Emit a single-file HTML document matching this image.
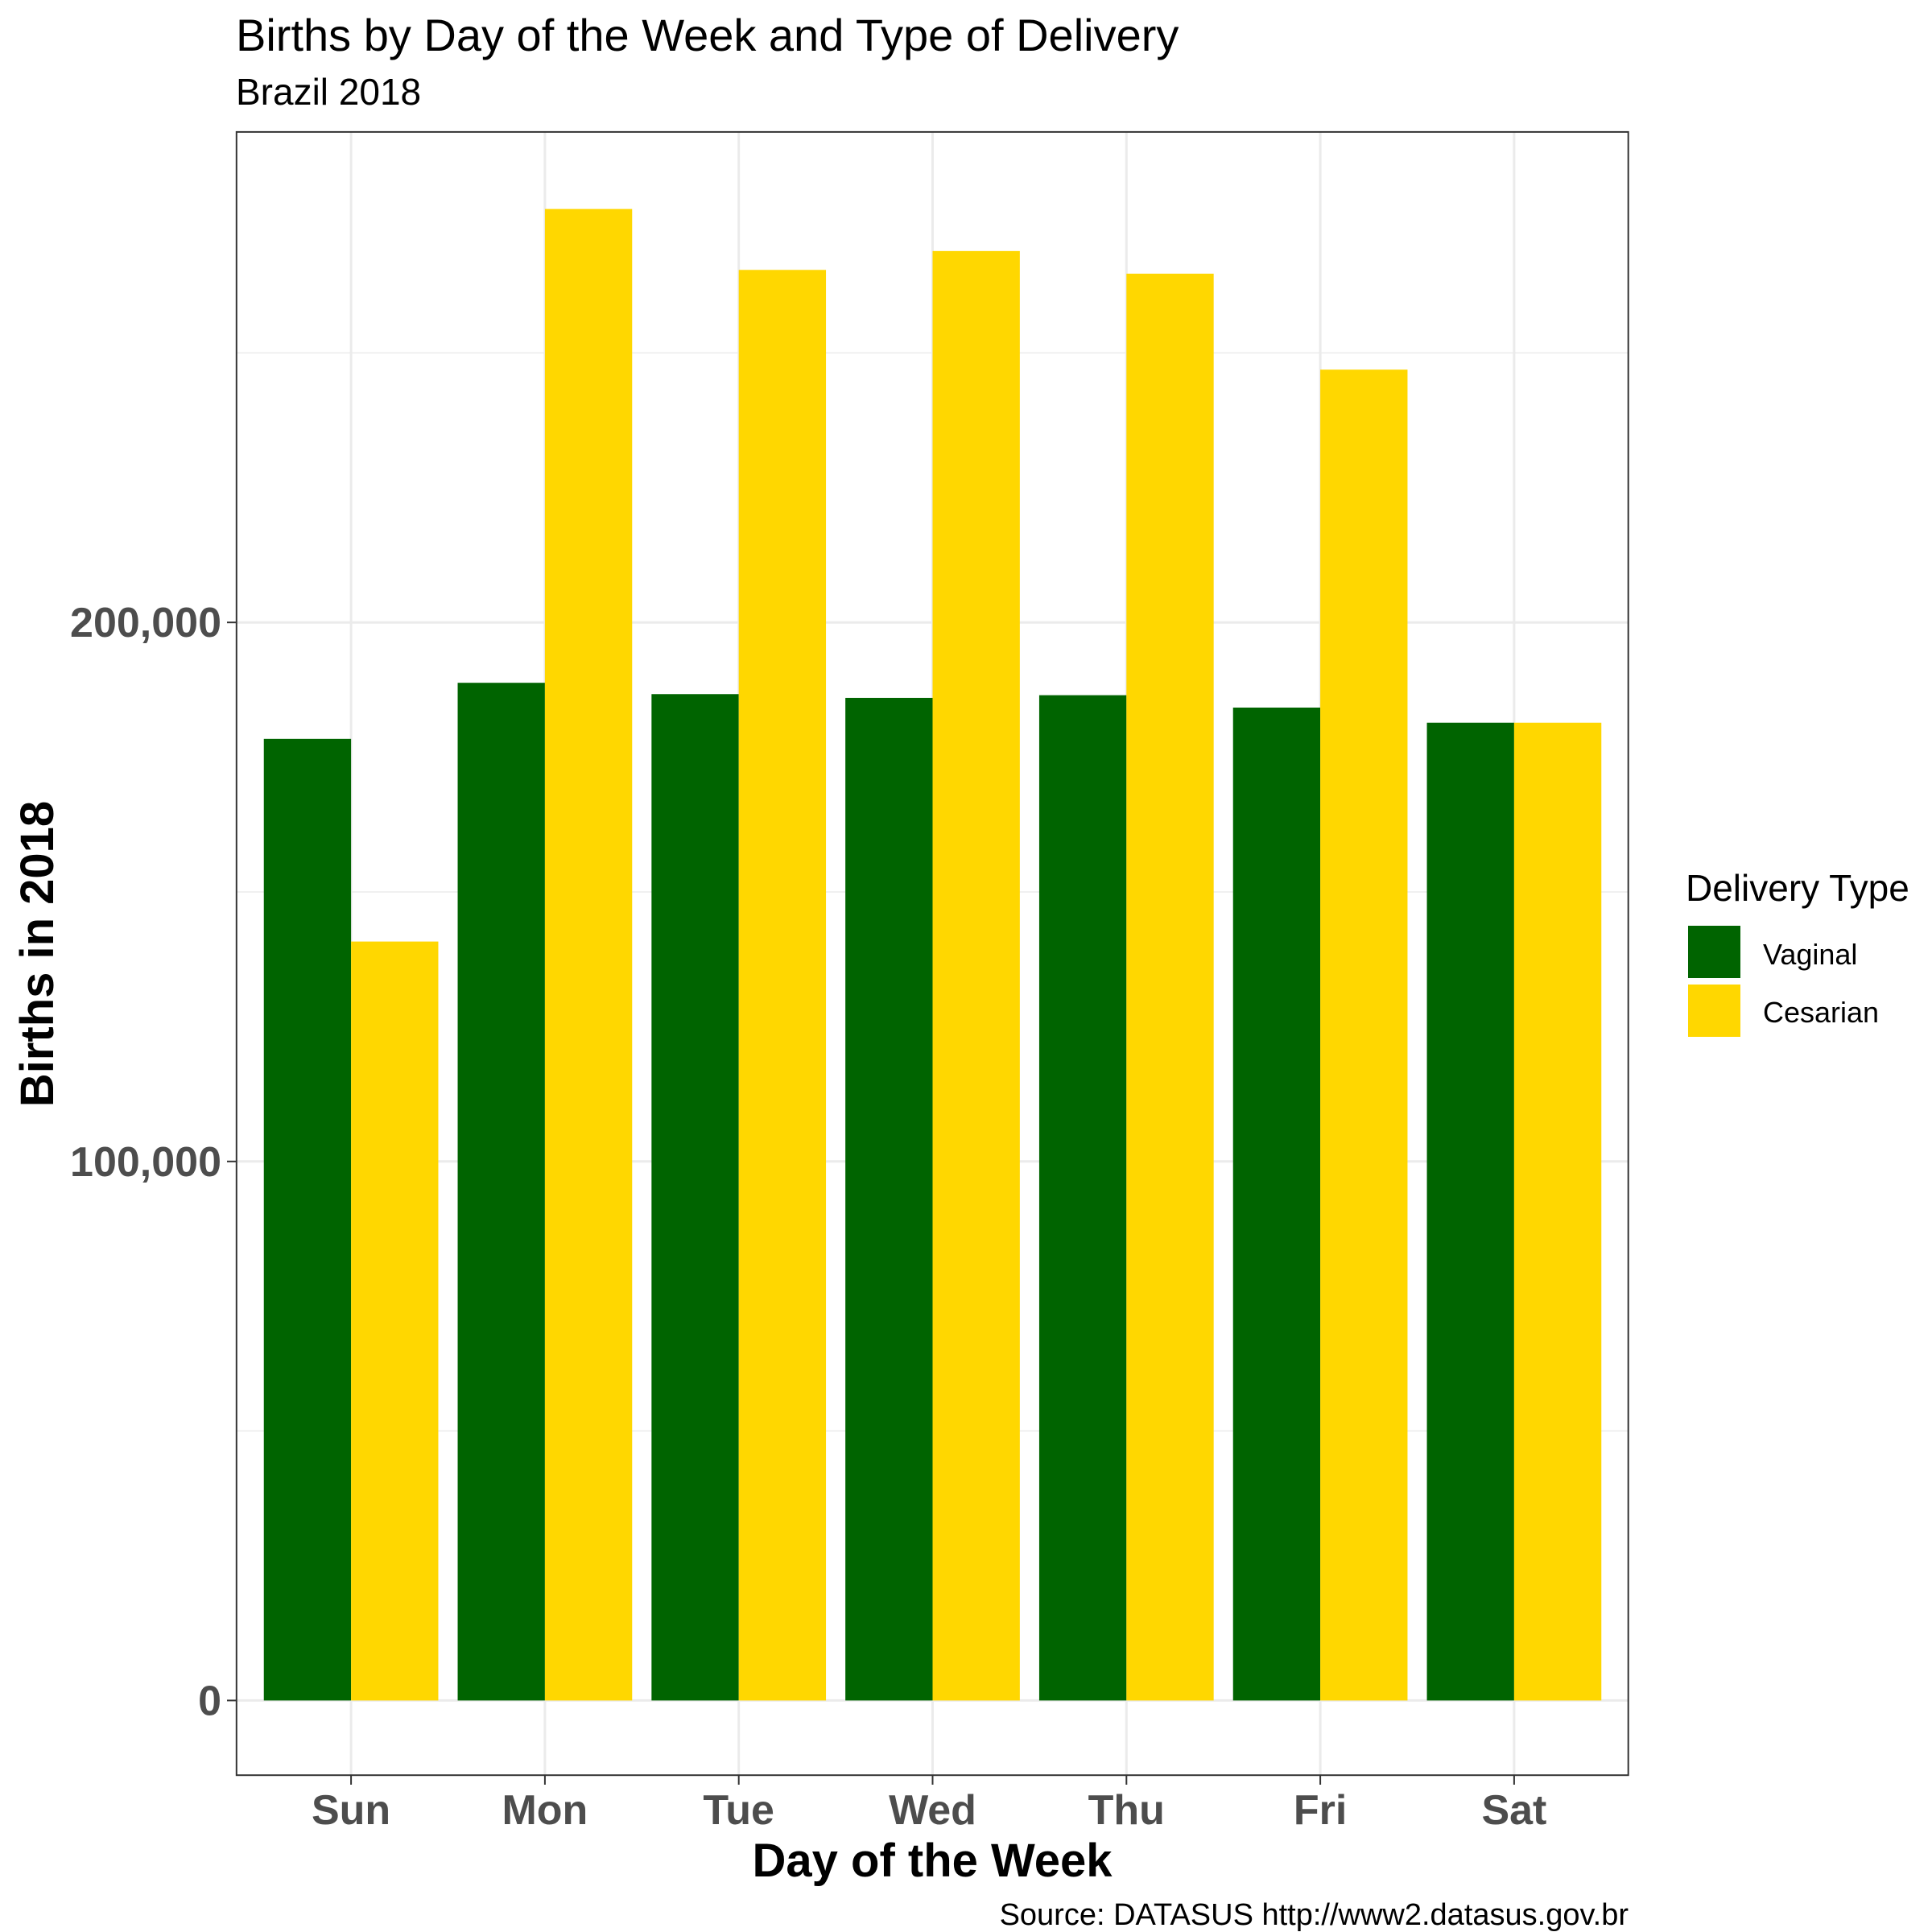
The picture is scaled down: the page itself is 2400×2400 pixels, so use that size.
<!DOCTYPE html>
<html><head><meta charset="utf-8"><style>
html,body{margin:0;padding:0;background:#fff;}
svg{display:block;font-family:"Liberation Sans",Arial,sans-serif;}
</style></head><body>
<svg id="chart" width="2400" height="2400" viewBox="0 0 2400 2400" xmlns="http://www.w3.org/2000/svg">
<text x="293" y="63" font-size="56" fill="#000">Births by Day of the Week and Type of Delivery</text>
<text x="293" y="130" font-size="46" fill="#000">Brazil 2018</text>
<g id="grid"></g>
<g id="bars"></g>
<rect x="293.8" y="163.9" width="1728.9" height="2041.3" fill="none" stroke="#333" stroke-width="2"/>
<g id="yticks"></g>
<g id="xticks"></g>
<text x="1158" y="2331" font-size="58" font-weight="bold" text-anchor="middle">Day of the Week</text>
<text transform="translate(66,1185) rotate(-90)" font-size="58" font-weight="bold" text-anchor="middle">Births in 2018</text>
<text x="2023" y="2391" font-size="38" text-anchor="end">Source: DATASUS http://www2.datasus.gov.br</text>
<g>
<text x="2094" y="1119" font-size="46">Delivery Type</text>
<rect x="2097" y="1150" width="65" height="65" fill="#006400"/>
<text x="2190" y="1198" font-size="36">Vaginal</text>
<rect x="2097" y="1223" width="65" height="65" fill="#FFD700"/>
<text x="2190" y="1270" font-size="36">Cesarian</text>
</g>
</svg>
<script>
const categories = ["Sun","Mon","Tue","Wed","Thu","Fri","Sat"];
const vaginal = [178400,188800,186700,186000,186500,184200,181400];
const cesarian = [140800,276700,265400,268900,264700,246900,181400];
const yTicks = [0,100000,200000];
const yTickLabels = ["0","100,000","200,000"];
const yMinor = [50000,150000,250000];

const NS="http://www.w3.org/2000/svg";
const y0=2112.4, pxPer=669.6/100000;
function yScale(v){return y0 - v*pxPer;}
const x0=436.1, step=240.8;
function xScale(i){return x0 + i*step;}
const bw=step*0.9/2;
function mk(tag,attrs,parent){const e=document.createElementNS(NS,tag);for(const k in attrs)e.setAttribute(k,attrs[k]);parent.appendChild(e);return e;}
const grid=document.getElementById('grid'), bars=document.getElementById('bars');
const yt=document.getElementById('yticks'), xt=document.getElementById('xticks');
yMinor.forEach(v=>{const l=mk('line',{x1:293.8,x2:2022.7,y1:yScale(v),y2:yScale(v),stroke:'#ebebeb','stroke-width':1.5},grid);

});
yTicks.forEach((v,i)=>{const l=mk('line',{x1:293.8,x2:2022.7,y1:yScale(v),y2:yScale(v),stroke:'#ebebeb','stroke-width':3},grid);


const t=mk('line',{x1:282,x2:293.8,y1:yScale(v),y2:yScale(v),stroke:'#333','stroke-width':2},yt);


const tx=mk('text',{x:275,y:yScale(v)+18,'font-size':52,'font-weight':'bold','text-anchor':'end',fill:'#4d4d4d'},yt);
tx.textContent=yTickLabels[i];

});
categories.forEach((c,i)=>{const x=xScale(i);
const g=mk('line',{x1:x,x2:x,y1:163.9,y2:2205.2,stroke:'#ebebeb','stroke-width':3},grid);


const b1=mk('rect',{x:x-bw,y:yScale(vaginal[i]),width:bw,height:y0-yScale(vaginal[i]),fill:'#006400'},bars);


const b2=mk('rect',{x:x,y:yScale(cesarian[i]),width:bw,height:y0-yScale(cesarian[i]),fill:'#FFD700'},bars);


const t=mk('line',{x1:x,x2:x,y1:2205.2,y2:2217,stroke:'#333','stroke-width':2},xt);


const tx=mk('text',{x:x,y:2266,'font-size':52,'font-weight':'bold','text-anchor':'middle',fill:'#4d4d4d'},xt);
tx.textContent=c;

});
</script>
</body></html>
